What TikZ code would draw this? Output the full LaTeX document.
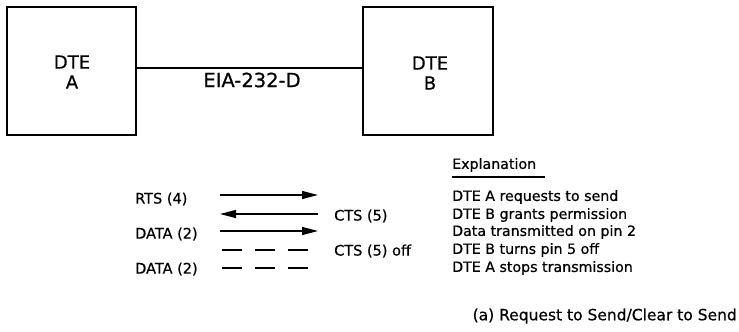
\documentclass[tikz,border=0pt]{standalone}
\usepackage{fontspec}
\setmainfont{DejaVu Sans}[FakeBold=0.6]
\usetikzlibrary{arrows.meta}
\begin{document}
\begin{tikzpicture}[x=1pt,y=-1pt,
  box/.style={draw,line width=1.3pt,minimum width=129pt,minimum height=128pt,inner sep=0pt},
  dte/.style={font=\fontsize{18}{20}\selectfont,align=center,inner sep=0pt},
  lbl/.style={font=\fontsize{14.5}{16}\selectfont,inner sep=0pt,anchor=west},
  expl/.style={font=\fontsize{14.2}{16}\selectfont,inner sep=0pt,anchor=west},
  sig/.style={line width=1.3pt,-{Triangle[length=16pt,width=8pt]}},
  dsig/.style={line width=1.3pt,dash pattern=on 20pt off 13pt}]
\useasboundingbox (0,0) rectangle (739,332);
% boxes
\node[box] (A) at (71.5,71) {};
\node[box,minimum width=130pt] (B) at (428,71) {};
\node[dte] (At) at (72,72) {DTE\\A};
\node[dte] (Bt) at (430,73) {DTE\\B};
\draw[line width=1.3pt] ([yshift=3pt]A.east) -- ([yshift=3pt]B.west);
\node[dte,font=\fontsize{19.5}{22}\selectfont] (eia) at (252,80) {EIA-232-D};
% left labels
\node[lbl] (l1) at (135,199) {RTS (4)};
\node[lbl] (l3) at (135,234) {DATA (2)};
\node[lbl] (l5) at (135,269) {DATA (2)};
\node[lbl] (r2) at (334,216) {CTS (5)};
\node[lbl] (r4) at (334,251) {CTS (5) off};
% arrow end points
\coordinate (a1s) at (220,195); \coordinate (a1e) at (318,195);
\coordinate (a2s) at (220,214); \coordinate (a2e) at (318,214);
\coordinate (a3s) at (220,231); \coordinate (a3e) at (318,231);
\coordinate (a4s) at (222,250); \coordinate (a4e) at (308,250);
\coordinate (a5s) at (222,268); \coordinate (a5e) at (308,268);
\draw[sig] (a1s) -- (a1e);
\draw[sig] (a2e) -- (a2s);
\draw[sig] (a3s) -- (a3e);
\draw[dsig] (a4s) -- (a4e);
\draw[dsig] (a5s) -- (a5e);
% explanation
\node[expl] (eh) at (452,165) {Explanation};
\coordinate (u1) at (452,177); \coordinate (u2) at (545,177);
\draw[line width=1.2pt] (u1) -- (u2);
\node[expl] (e1) at (452,197) {DTE A requests to send};
\node[expl] (e2) at (452,215) {DTE B grants permission};
\node[expl] (e3) at (452,232) {Data transmitted on pin 2};
\node[expl] (e4) at (452,250) {DTE B turns pin 5 off};
\node[expl] (e5) at (452,268) {DTE A stops transmission};
% caption
\node[font=\fontsize{15.5}{18}\selectfont,inner sep=0pt,anchor=east] (cap) at (737,316) {(a) Request to Send/Clear to Send};
\end{tikzpicture}
\end{document}
